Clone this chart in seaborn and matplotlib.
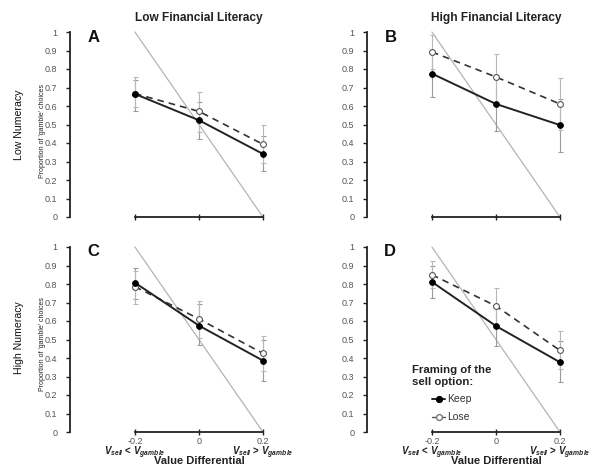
import numpy as np
import pandas as pd
import seaborn as sns
import matplotlib
matplotlib.use("Agg")
import matplotlib.pyplot as plt
from matplotlib.lines import Line2D

# ---------------- data ----------------
x_vals = [-0.2, 0.0, 0.2]
x_ticklabels = ["-0.2", "0", "0.2"]
y_ticks = [0, 0.1, 0.2, 0.3, 0.4, 0.5, 0.6, 0.7, 0.8, 0.9, 1.0]
y_ticklabels = ["0", "0.1", "0.2", "0.3", "0.4", "0.5", "0.6", "0.7", "0.8", "0.9", "1"]
ref_x = [-0.2, 0.2]
ref_y = [1.0, 0.0]

panels = ["A", "B", "C", "D"]
col_titles = ["Low Financial Literacy", "High Financial Literacy"]
row_titles = ["Low Numeracy", "High Numeracy"]
series_names = ["Keep", "Lose"]

keep_A = [0.665, 0.523, 0.341]
lose_A = [0.667, 0.571, 0.393]
keep_A_lo = [0.571, 0.422, 0.247]
keep_A_hi = [0.740, 0.620, 0.440]
lose_A_lo = [0.596, 0.460, 0.290]
lose_A_hi = [0.757, 0.676, 0.499]

keep_B = [0.775, 0.611, 0.497]
lose_B = [0.892, 0.757, 0.611]
keep_B_lo = [0.649, 0.463, 0.351]
keep_B_hi = [0.890, 0.750, 0.640]
lose_B_lo = [0.800, 0.620, 0.470]
lose_B_hi = [0.986, 0.883, 0.750]

keep_C = [0.807, 0.575, 0.386]
lose_C = [0.786, 0.611, 0.425]
keep_C_lo = [0.720, 0.470, 0.277]
keep_C_hi = [0.888, 0.690, 0.500]
lose_C_lo = [0.690, 0.510, 0.330]
lose_C_hi = [0.870, 0.710, 0.520]

keep_D = [0.811, 0.573, 0.377]
lose_D = [0.850, 0.681, 0.441]
keep_D_lo = [0.724, 0.463, 0.270]
keep_D_hi = [0.900, 0.680, 0.490]
lose_D_lo = [0.780, 0.580, 0.340]
lose_D_hi = [0.926, 0.778, 0.546]

panel_data = {
    "A": (keep_A, lose_A, keep_A_lo, keep_A_hi, lose_A_lo, lose_A_hi),
    "B": (keep_B, lose_B, keep_B_lo, keep_B_hi, lose_B_lo, lose_B_hi),
    "C": (keep_C, lose_C, keep_C_lo, keep_C_hi, lose_C_lo, lose_C_hi),
    "D": (keep_D, lose_D, keep_D_lo, keep_D_hi, lose_D_lo, lose_D_hi),
}

# ---------------- style ----------------
sns.set_theme(style="white")
plt.rcParams["font.family"] = ["Liberation Sans", "DejaVu Sans"]
plt.rcParams["mathtext.fontset"] = "custom"
plt.rcParams["mathtext.rm"] = "Liberation Sans:bold"
plt.rcParams["mathtext.it"] = "Liberation Sans:bold:italic"
plt.rcParams["mathtext.bf"] = "Liberation Sans:bold"

W, H = 599, 466
fig = plt.figure(figsize=(W / 100, H / 100), dpi=100)

def fx(px):
    return px / W

def fy(py):
    return 1 - py / H

# axes placement in pixels: (left spine x, y of value 1, y of value 0)
ax_px = {
    "A": (70, 32, 217),
    "B": (367, 32, 217),
    "C": (70, 247, 432),
    "D": (367, 247, 432),
}
xmin, xmax = -0.403, 0.25
ppu = 320.0  # pixels per x unit

narrow = ["Liberation Sans Narrow", "Liberation Sans", "DejaVu Sans"]
tick_color = "#555555"

axes = {}
for i, p in enumerate(panels):
    left, ytop, ybot = ax_px[p]
    width_px = (xmax - xmin) * ppu
    ax = fig.add_axes([fx(left), fy(ybot), width_px / W, (ybot - ytop) / H])
    axes[p] = ax
    keep, lose, klo, khi, llo, lhi = panel_data[p]

    # reference diagonal
    ax.plot(ref_x, ref_y, color="#b4b4b4", lw=0.9, zorder=1)

    # error bars
    ax.errorbar(x_vals, keep, yerr=[np.array(keep) - np.array(klo), np.array(khi) - np.array(keep)],
                fmt="none", ecolor="#9a9a9a", elinewidth=0.8, capsize=1.8, capthick=0.8, zorder=2)
    ax.errorbar(x_vals, lose, yerr=[np.array(lose) - np.array(llo), np.array(lhi) - np.array(lose)],
                fmt="none", ecolor="#b8b8b8", elinewidth=0.8, capsize=1.8, capthick=0.8, zorder=2)

    df = pd.DataFrame({
        "x": x_vals * 2,
        "y": keep + lose,
        "Framing": [series_names[0]] * 3 + [series_names[1]] * 3,
    })
    sns.lineplot(data=df[df.Framing == "Lose"], x="x", y="y", ax=ax, color="#333333",
                 lw=1.2, linestyle=(0, (4, 3)), marker="o", markersize=4.2,
                 markerfacecolor="white", markeredgecolor="#555555", markeredgewidth=0.8,
                 legend=False, zorder=3)
    sns.lineplot(data=df[df.Framing == "Keep"], x="x", y="y", ax=ax, color="#222222",
                 lw=1.4, marker="o", markersize=4.2,
                 markerfacecolor="black", markeredgecolor="black", markeredgewidth=0.6,
                 legend=False, zorder=4)

    ax.set_xlim(xmin, xmax)
    ax.set_ylim(0, 1)
    ax.set_xlabel("")
    ax.set_ylabel("")
    for s in ["top", "right"]:
        ax.spines[s].set_visible(False)
    ax.spines["left"].set_bounds(0, 1)
    ax.spines["bottom"].set_bounds(-0.2, 0.2)
    ax.spines["left"].set_linewidth(1.3)
    ax.spines["bottom"].set_linewidth(1.3)
    ax.spines["left"].set_color("#222222")
    ax.spines["bottom"].set_color("#222222")
    ax.set_yticks(y_ticks)
    ax.set_yticklabels(y_ticklabels)
    ax.set_xticks(x_vals)
    ax.tick_params(axis="y", direction="out", length=3, width=1.0, colors="#222222",
                   labelcolor=tick_color, labelsize=6.5, pad=6, left=True)
    ax.tick_params(axis="x", direction="inout", length=4, width=1.0, colors="#222222",
                   labelcolor=tick_color, labelsize=6.5, pad=1.5, bottom=True)
    if i >= 2:
        ax.set_xticklabels(x_ticklabels)
    else:
        ax.set_xticklabels([])
    for t in ax.get_yticklabels() + ax.get_xticklabels():
        t.set_clip_on(False)
    for line in ax.lines:
        line.set_clip_on(False)

# panel letters
letter_pos = {"A": (88, 38), "B": (385, 37), "C": (87, 252), "D": (384, 252)}
for p, (lx, ly) in letter_pos.items():
    fig.text(fx(lx), fy(ly), p, fontsize=12, fontweight="bold", ha="left", va="center",
             color="#111111")

# column titles
fig.text(fx(199), fy(18), col_titles[0], fontsize=8.6, fontweight="bold", ha="center",
         va="center", color="#222222")
fig.text(fx(496), fy(18), col_titles[1], fontsize=8.6, fontweight="bold", ha="center",
         va="center", color="#222222")

# row titles and y labels
for ry, rt in zip([125, 338], row_titles):
    fig.text(fx(19), fy(ry), rt, fontsize=7.6, rotation=90, ha="center", va="center",
             family=narrow, color="#111111")
    fig.text(fx(42), fy(ry + 6), "Proportion of 'gamble' choices", fontsize=5.0, rotation=90,
             ha="center", va="center", family=narrow, color="#222222")

# bottom annotations
for p in ["C", "D"]:
    ax = axes[p]
    ax.text(-0.2, -0.112, r"$V_{sell}$ < $V_{gamble}$", transform=ax.transData, ha="center",
            va="center", fontsize=7, fontweight="bold", color="#222222", clip_on=False)
    ax.text(0.2, -0.112, r"$V_{sell}$ > $V_{gamble}$", transform=ax.transData, ha="center",
            va="center", fontsize=7, fontweight="bold", color="#222222", clip_on=False)
    ax.text(0.0, -0.158, "Value Differential", transform=ax.transData, ha="center",
            va="center", fontsize=8, fontweight="bold", color="#222222", clip_on=False)

# legend in panel D
handles = [
    Line2D([0], [0], color="#222222", lw=1.4, marker="o", markersize=4.2,
           markerfacecolor="black", markeredgecolor="black"),
    Line2D([0], [0], color="#555555", lw=1.0, marker="o", markersize=4.2,
           markerfacecolor="white", markeredgecolor="#777777"),
]
leg = axes["D"].legend(handles, series_names, title="Framing of the\nsell option:",
                       loc="upper left", bbox_to_anchor=(fx(412), fy(365)),
                       bbox_transform=fig.transFigure, frameon=False,
                       fontsize=7.5, title_fontproperties={"weight": "bold", "size": 8.2},
                       handlelength=1.3, handletextpad=0.15, labelspacing=0.75,
                       borderpad=0, borderaxespad=0)
for t in leg.get_texts():
    t.set_color("#333333")
leg.get_title().set_color("#222222")

fig.savefig("out.png", dpi=100)
